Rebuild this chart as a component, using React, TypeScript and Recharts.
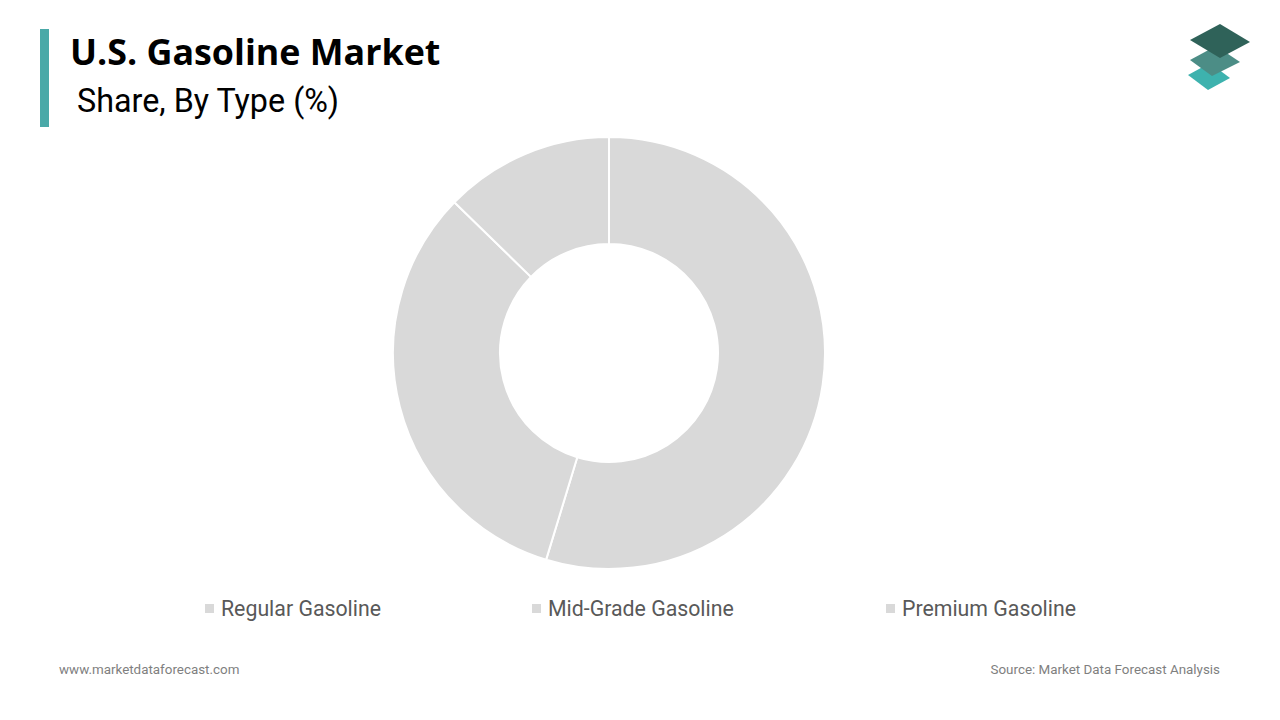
import React from "react";
import { PieChart, Pie, Cell } from "recharts";

const categories = ["Regular Gasoline", "Mid-Grade Gasoline", "Premium Gasoline"];
const shares = [54.7, 32.6, 12.7];
const sliceColors = ["#d9d9d9", "#d9d9d9", "#d9d9d9"];

const data = categories.map((name, i) => ({ name, value: shares[i] }));

const legendX = [205, 532, 886];

export default function App() {
  return (
    <div style={{ position: "absolute", left: 0, top: 0, width: 1280, height: 720, background: "#fff", overflow: "hidden", fontFamily: "Roboto, sans-serif" }}>
      <div style={{ position: "absolute", left: 40, top: 29, width: 9, height: 98, background: "#4aa9a8" }} />
      <div style={{ position: "absolute", left: 70, top: 27, fontFamily: "'Open Sans', sans-serif", fontWeight: 700, fontSize: 35.8, lineHeight: "48px", color: "#000", whiteSpace: "nowrap" }}>
        U.S. Gasoline Market
      </div>
      <div style={{ position: "absolute", left: 77, top: 80, fontFamily: "Roboto, sans-serif", fontSize: 32.3, lineHeight: "42px", color: "#000", whiteSpace: "nowrap" }}>
        Share, By Type (%)
      </div>
      <svg style={{ position: "absolute", left: 1180, top: 18 }} width={80} height={80}>
        <polygon points="8,57 30,45 50,60 28,72" fill="#3db2ae" />
        <polygon points="10,42 36,28 60,44 32,58" fill="#4c8d86" />
        <polygon points="10,22 40,6 70,24 40,40" fill="#2f6259" />
      </svg>
      <div style={{ position: "absolute", left: 0, top: 0 }}>
        <PieChart width={1280} height={720} margin={{ top: 0, right: 0, bottom: 0, left: 0 }}>
          <Pie
            data={data}
            dataKey="value"
            nameKey="name"
            cx={609}
            cy={353}
            innerRadius={109}
            outerRadius={216}
            startAngle={90}
            endAngle={-270}
            stroke="#ffffff"
            strokeWidth={2}
            isAnimationActive={false}
          >
            {data.map((d, i) => (
              <Cell key={d.name} fill={sliceColors[i]} />
            ))}
          </Pie>
        </PieChart>
      </div>
      {categories.map((c, i) => (
        <div key={c} style={{ position: "absolute", left: legendX[i], top: 596, height: 24, display: "flex", alignItems: "center", whiteSpace: "nowrap" }}>
          <div style={{ width: 9, height: 9, background: sliceColors[i], marginRight: 7 }} />
          <span style={{ fontSize: 21.3, color: "#595959", fontFamily: "Roboto, sans-serif" }}>{c}</span>
        </div>
      ))}
      <div style={{ position: "absolute", left: 59, top: 662, fontSize: 13.4, color: "#7f7f7f", whiteSpace: "nowrap" }}>
        www.marketdataforecast.com
      </div>
      <div style={{ position: "absolute", right: 60, top: 662, fontSize: 13.4, color: "#7f7f7f", whiteSpace: "nowrap" }}>
        Source: Market Data Forecast Analysis
      </div>
    </div>
  );
}
